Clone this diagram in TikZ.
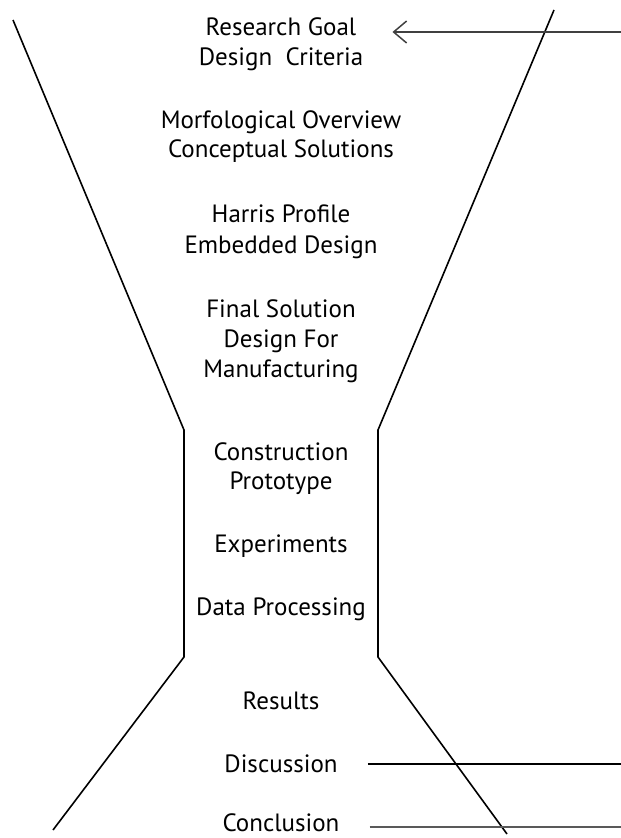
\documentclass[tikz,border=0pt]{standalone}
\usepackage{fontspec}
\setmainfont{PT Sans}
\usetikzlibrary{arrows.meta}
\begin{document}
\begin{tikzpicture}[x=1pt, y=-1pt]
\tikzstyle{every node} = [font=\fontsize{25}{30}\selectfont, anchor=base, inner sep=0pt]
\useasboundingbox (0,0) rectangle (621,838);
\node (goal) at (281,35) {Research Goal};
\node (crit) at (281,65) {Design~ Criteria};
\node (morf) at (281,128) {Morfological Overview};
\node (conc) at (281,157) {Conceptual Solutions};
\node (harr) at (281,222) {Harris Profile};
\node (embd) at (281,253) {Embedded Design};
\node (finl) at (281,317) {Final Solution};
\node (dfor) at (281,347) {Design For};
\node (manu) at (281,377) {Manufacturing};
\node (cons) at (281,460) {Construction};
\node (prot) at (281,489) {Prototype};
\node (expe) at (281,552) {Experiments};
\node (data) at (281,615) {Data Processing};
\node (resu) at (281,709) {Results};
\node (disc) at (281,772) {Discussion};
\node (conl) at (281,831) {Conclusion};
\coordinate (in) at (621,32);
\coordinate (discend) at (621,764);
\coordinate (conlend) at (621,827);
\draw[line width=1.6pt] (13,20) -- (184,430) -- (184,657) -- (53,830);
\draw[line width=1.6pt] (554,10) -- (378,430) -- (378,657) -- (507,834);
\draw[line width=1.5pt, black!75, -{Straight Barb[length=13pt,width=22pt]}] (in) -- ([xshift=36pt]goal.east |- in);
\draw[line width=2.6pt] ([xshift=30pt]disc.east |- discend) -- (discend);
\draw[line width=1.8pt, black!65] ([xshift=30pt]conl.east |- conlend) -- (conlend);
\end{tikzpicture}
\end{document}
